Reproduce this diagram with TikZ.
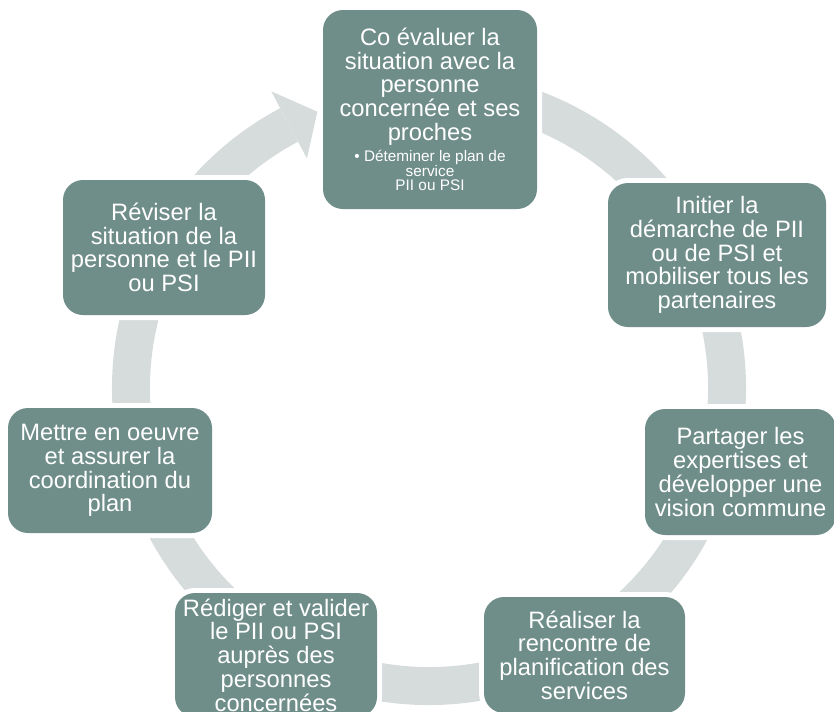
\documentclass[tikz,border=0pt]{standalone}
\usepackage{fontspec}
\setmainfont{Liberation Sans}
\definecolor{boxc}{HTML}{6F8E89}
\definecolor{ringc}{HTML}{D6DCDC}
\newcommand\mainsz{\fontsize{17.8pt}{17.8pt}\selectfont}
\newcommand\smallsz{\fontsize{11.5pt}{10pt}\selectfont}
\begin{document}
\begin{tikzpicture}[x=0.75pt,y=0.75pt,
  box/.style={rectangle, rounded corners=15pt, fill=boxc,
    preaction={draw=white, line width=7.5pt},
    text=white, align=center, font=\mainsz, inner sep=0pt},
  txt/.style={text=white, align=center, inner sep=0pt},
  ringpart/.style={fill=ringc}
]
\useasboundingbox (0,0) rectangle (834,-711);
\clip (0,0) rectangle (834,-711);

% ring with arrowhead
\coordinate (c) at (429,-388);
\fill[ringpart] ([shift={(100:237.75pt)}]c) arc[start angle=100,end angle=-242,radius=237.75pt]
  -- ([shift={(-242:209.25pt)}]c) arc[start angle=-242,end angle=100,radius=209.25pt] -- cycle;
\fill[ringpart] ([shift={(-242:195pt)}]c) -- ([shift={(-248:223.5pt)}]c) -- ([shift={(-242:252pt)}]c) -- cycle;

% boxes
\node[box, minimum width=160.5pt, minimum height=149.25pt] (b1) at (430,-109.5) {};
\node[txt, font=\mainsz] (t1) at (430,-86.5) {Co évaluer la\\situation avec la\\personne\\concernée et ses\\proches};
\node[txt, font=\smallsz] (t1b) at (430,-170) {• Déteminer le plan de\\service\\PII ou PSI};

\node[box, minimum width=163.5pt, minimum height=108pt] (b2) at (717,-255)
  {Initier la\\démarche de PII\\ou de PSI et\\mobiliser tous les\\partenaires};
\node[box, minimum width=143.25pt, minimum height=94.5pt] (b3) at (740.5,-472)
  {Partager les\\expertises et\\développer une\\vision commune};
\node[box, minimum width=150.75pt, minimum height=87pt] (b4) at (584.5,-655)
  {Réaliser la\\rencontre de\\planification des\\services};
\node[box, minimum width=151.5pt, minimum height=93pt] (b5) at (276,-655)
  {Rédiger et valider\\le PII ou PSI\\auprès des\\personnes\\concernées};
\node[box, minimum width=153pt, minimum height=93.75pt] (b6) at (110,-470.5)
  {Mettre en oeuvre\\et assurer la\\coordination du\\plan};
\node[box, minimum width=151.5pt, minimum height=101.25pt] (b7) at (164,-247.5)
  {Réviser la\\situation de la\\personne et le PII\\ou PSI};
\end{tikzpicture}
\end{document}
